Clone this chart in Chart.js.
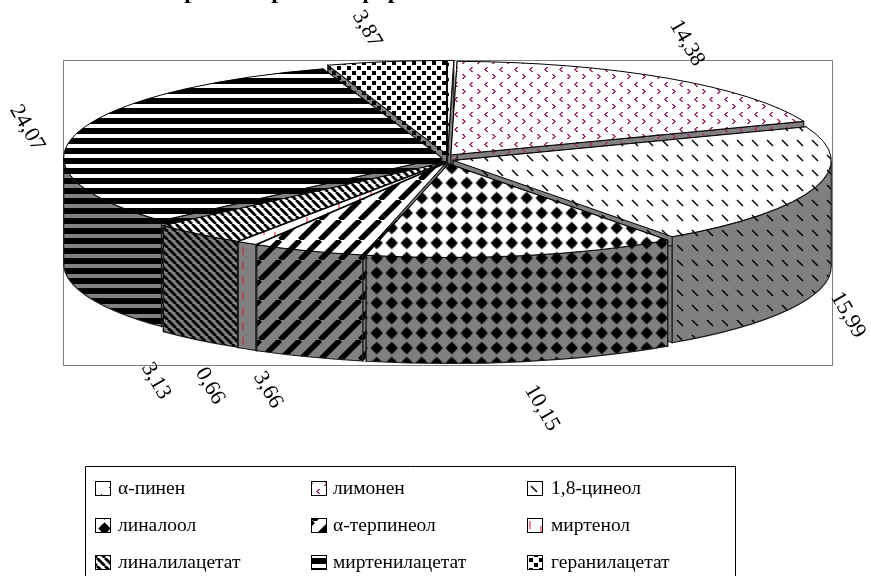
<!DOCTYPE html>
<html lang="ru"><head><meta charset="utf-8">
<style>html,body{margin:0;padding:0;background:#fff;overflow:hidden}canvas{display:block}</style>
<script src="https://cdn.jsdelivr.net/npm/chart.js@4/dist/chart.umd.min.js"></script>
</head><body>
<div style="width:871px;height:576px"><canvas id="c" width="871" height="576"></canvas></div>
<script>
const categories = ['α-пинен','лимонен','1,8-цинеол','линалоол','α-терпинеол','миртенол','линалилацетат','миртенилацетат','геранилацетат'];
const values = [0.2,14.38,15.99,10.15,3.66,0.66,3.13,24.07,3.87];
const unlabelled = ['α-пинен'];
const titleText = 'Хроматограмма эфирного масла';

const GRAY='#808080', FONT='"Liberation Serif","Times New Roman",serif';
const RX=378, TILT=0.2476, DEPTH=106, EX=6, EY=5;

function tile(w,h,bg,paint){
  const c=document.createElement('canvas');c.width=w;c.height=h;
  const x=c.getContext('2d');x.fillStyle=bg;x.fillRect(0,0,w,h);paint(x,w,h);
  return x.createPattern(c,'repeat');
}
function diag(x,s,lw,down,col){
  x.strokeStyle=col||'#000';x.lineWidth=lw;
  for(let i=-2;i<=2;i++){x.beginPath();
    if(down){x.moveTo(i*s,0);x.lineTo(i*s+s,s);}else{x.moveTo(i*s+s,0);x.lineTo(i*s,s);}
    x.stroke();}
}
const painters=[
 {w:15,h:15,ph:[0,0],p:(x)=>{x.fillStyle='#000';x.fillRect(12,3,2,1);x.fillRect(13,4,1,2);x.fillRect(4,10,1,1);}},
 {w:15,h:15,ph:[1,2],p:(x)=>{x.fillStyle='#a3306f';
    [[5,5],[4,6],[3,7],[4,8],[5,9]].forEach(a=>x.fillRect(a[0],a[1],2,1));
    [[11,12],[12,13],[13,14],[12,0],[11,1]].forEach(a=>x.fillRect(a[0],a[1],2,1));}},
 {w:15,h:15,ph:[0,3],p:(x)=>{x.strokeStyle='#000';x.lineWidth=1.4;x.beginPath();x.moveTo(2,2);x.lineTo(8,8);x.stroke();}},
 {w:15,h:15,ph:[-5.8,-4.5],p:(x)=>{x.fillStyle='#000';x.beginPath();const r=6.2,c=7.5;
    x.moveTo(c,c-r);x.lineTo(c+r,c);x.lineTo(c,c+r);x.lineTo(c-r,c);x.closePath();x.fill();
    x.fillRect(c-3.5,c-3.5,7,7);}},
 {w:20,h:20,ph:[0,0],p:(x,w)=>diag(x,w,5.5,false)},
 {w:32,h:15,ph:[7,2],p:null},
 {w:8,h:8,ph:[0,0],p:(x,w)=>diag(x,w,2.8,true)},
 {w:10,h:10,ph:[0,8],p:(x)=>{x.fillStyle='#000';x.fillRect(0,0,10,6);}},
 {w:10,h:10,ph:[2,1],p:(x)=>{x.fillStyle='#000';x.fillRect(0,0,4,4);x.fillRect(5,5,4,4);}}
];
function myrtenol(col){return (x)=>{x.fillStyle=col;x.fillRect(0,0,2,8);x.fillRect(11,5,2,8);};}
const topPatterns=painters.map((d,i)=>tile(d.w,d.h,'#fff',d.p||myrtenol('#f08a8a')));
const wallPatterns=painters.map((d,i)=>tile(d.w,d.h,GRAY,d.p||myrtenol('#a84f4f')));

function geom(arc,idx,chart){
  const a=chart.chartArea, mid=(arc.startAngle+arc.endAngle)/2;
  const cx=arc.x, cy=(a.top+a.bottom)/2-DEPTH/2-0.5;
  return {idx,arc,mid,a0:arc.startAngle,a1:arc.endAngle,cx,cy,
    hx:cx+EX*Math.cos(mid),hy:cy+EY*Math.sin(mid),r:arc.outerRadius,ry:arc.outerRadius*TILT};
}
function anchor(pat,i){const p=painters[i].ph;pat.setTransform(new DOMMatrix([1,0,0,1,p[0],p[1]]));}
function fillStroke(ctx,i){
  const pat=wallPatterns[i];anchor(pat,i);ctx.fillStyle=pat;ctx.fill();
  ctx.strokeStyle='#1c1c1c';ctx.lineWidth=1.2;ctx.stroke();
}
function drawWalls(ctx,g){
  const {hx,hy,r,ry,a0,a1,idx}=g;
  [a1,a0].forEach(t=>{
    const ex=hx+r*Math.cos(t),ey=hy+ry*Math.sin(t);
    ctx.beginPath();ctx.moveTo(hx,hy);ctx.lineTo(ex,ey);ctx.lineTo(ex,ey+DEPTH);ctx.lineTo(hx,hy+DEPTH);ctx.closePath();
    fillStroke(ctx,idx);
  });
  const s=Math.max(a0,0),e=Math.min(a1,Math.PI);
  if(s<e){
    ctx.beginPath();ctx.ellipse(hx,hy,r,ry,0,s,e);ctx.ellipse(hx,hy+DEPTH,r,ry,0,e,s,true);ctx.closePath();
    fillStroke(ctx,idx);
  }
}
function drawTop(ctx,g){
  const {arc,idx,hx,hy,r,ry,a0,a1}=g, p=painters[idx].ph, ax=arc.x, ay=arc.y;
  // pattern stays upright and anchored to the page although the arc is squashed
  topPatterns[idx].setTransform(new DOMMatrix([1,0,0,1/TILT,p[0]-hx+ax,(p[1]-hy)/TILT+ay]));
  ctx.save();ctx.translate(hx,hy);ctx.scale(1,TILT);ctx.translate(-ax,-ay);arc.draw(ctx);ctx.restore();
  ctx.beginPath();ctx.moveTo(hx,hy);ctx.ellipse(hx,hy,r,ry,0,a0,a1);ctx.closePath();
  ctx.strokeStyle='#000';ctx.lineWidth=1;ctx.stroke();
}
const pie3d={id:'pie3d',
  beforeDatasetsDraw(chart){
    const ctx=chart.ctx,a=chart.chartArea;
    ctx.save();ctx.strokeStyle=GRAY;ctx.lineWidth=1;
    ctx.strokeRect(a.left+.5,a.top+.5,a.width,a.height);
    const list=chart.getDatasetMeta(0).data.map((arc,i)=>geom(arc,i,chart));
    list.sort((p,q)=>Math.sin(p.mid)-Math.sin(q.mid));
    list.forEach(g=>{drawWalls(ctx,g);drawTop(ctx,g);});
    ctx.restore();
    return false;
  },
  afterDraw(chart){
    const ctx=chart.ctx, cfg=chart.options.plugins.pie3d;
    const spots=cfg.labelSpots;
    ctx.save();
    ctx.fillStyle='#000';ctx.font='bold 24px '+FONT;ctx.textAlign='left';ctx.textBaseline='alphabetic';
    ctx.fillText(titleText,cfg.titleAt[0],cfg.titleAt[1]);
    ctx.font='22px '+FONT;ctx.textAlign='center';ctx.textBaseline='middle';
    categories.forEach((c,i)=>{
      if(unlabelled.includes(c))return;
      const s=spots[c];
      ctx.save();ctx.translate(s[0],s[1]);ctx.rotate(Math.PI/3);
      ctx.fillText(values[i].toFixed(2).replace('.',','),0,0);ctx.restore();
    });
    const L=cfg.legendBox;
    ctx.strokeStyle='#000';ctx.lineWidth=1;
    ctx.beginPath();ctx.moveTo(L.x0+.5,L.y1);ctx.lineTo(L.x0+.5,L.y0+.5);ctx.lineTo(L.x1+.5,L.y0+.5);ctx.lineTo(L.x1+.5,L.y1);ctx.stroke();
    ctx.textAlign='left';ctx.font='19.5px '+FONT;
    categories.forEach((c,i)=>{
      const col=L.cols[i%3],row=L.rows[Math.floor(i/3)];
      const pat=topPatterns[i];pat.setTransform(new DOMMatrix([1,0,0,1,col[0]+2,row-5]));
      ctx.fillStyle=pat;ctx.fillRect(col[0]+.5,row-7.5,15,14);
      ctx.strokeStyle='#000';ctx.strokeRect(col[0]+.5,row-7.5,15,14);
      ctx.fillStyle='#000';ctx.fillText(c,col[1],row);
    });
    ctx.restore();
  }
};
new Chart(document.getElementById('c'),{
  type:'pie',
  data:{labels:categories,datasets:[{data:values,backgroundColor:topPatterns,borderWidth:0,radius:RX}]},
  plugins:[pie3d],
  options:{
    responsive:false,animation:false,devicePixelRatio:1,
    radius:RX,
    layout:{padding:{left:63,right:39,top:60,bottom:211}},
    events:[],
    plugins:{
      legend:{display:false},tooltip:{enabled:false},title:{display:false},
      pie3d:{
        titleAt:[167,-2],
        labelSpots:{'лимонен':[687,43],'1,8-цинеол':[848,315],'линалоол':[542,408],'α-терпинеол':[268,390],'миртенол':[210,386],'линалилацетат':[156,381],'миртенилацетат':[27,128],'геранилацетат':[367,29]},
        legendBox:{x0:85,y0:466,x1:735,y1:580,rows:[489,526,563],cols:[[95,118],[311,333],[527,551]]}
      }
    }
  }
});
</script></body></html>
